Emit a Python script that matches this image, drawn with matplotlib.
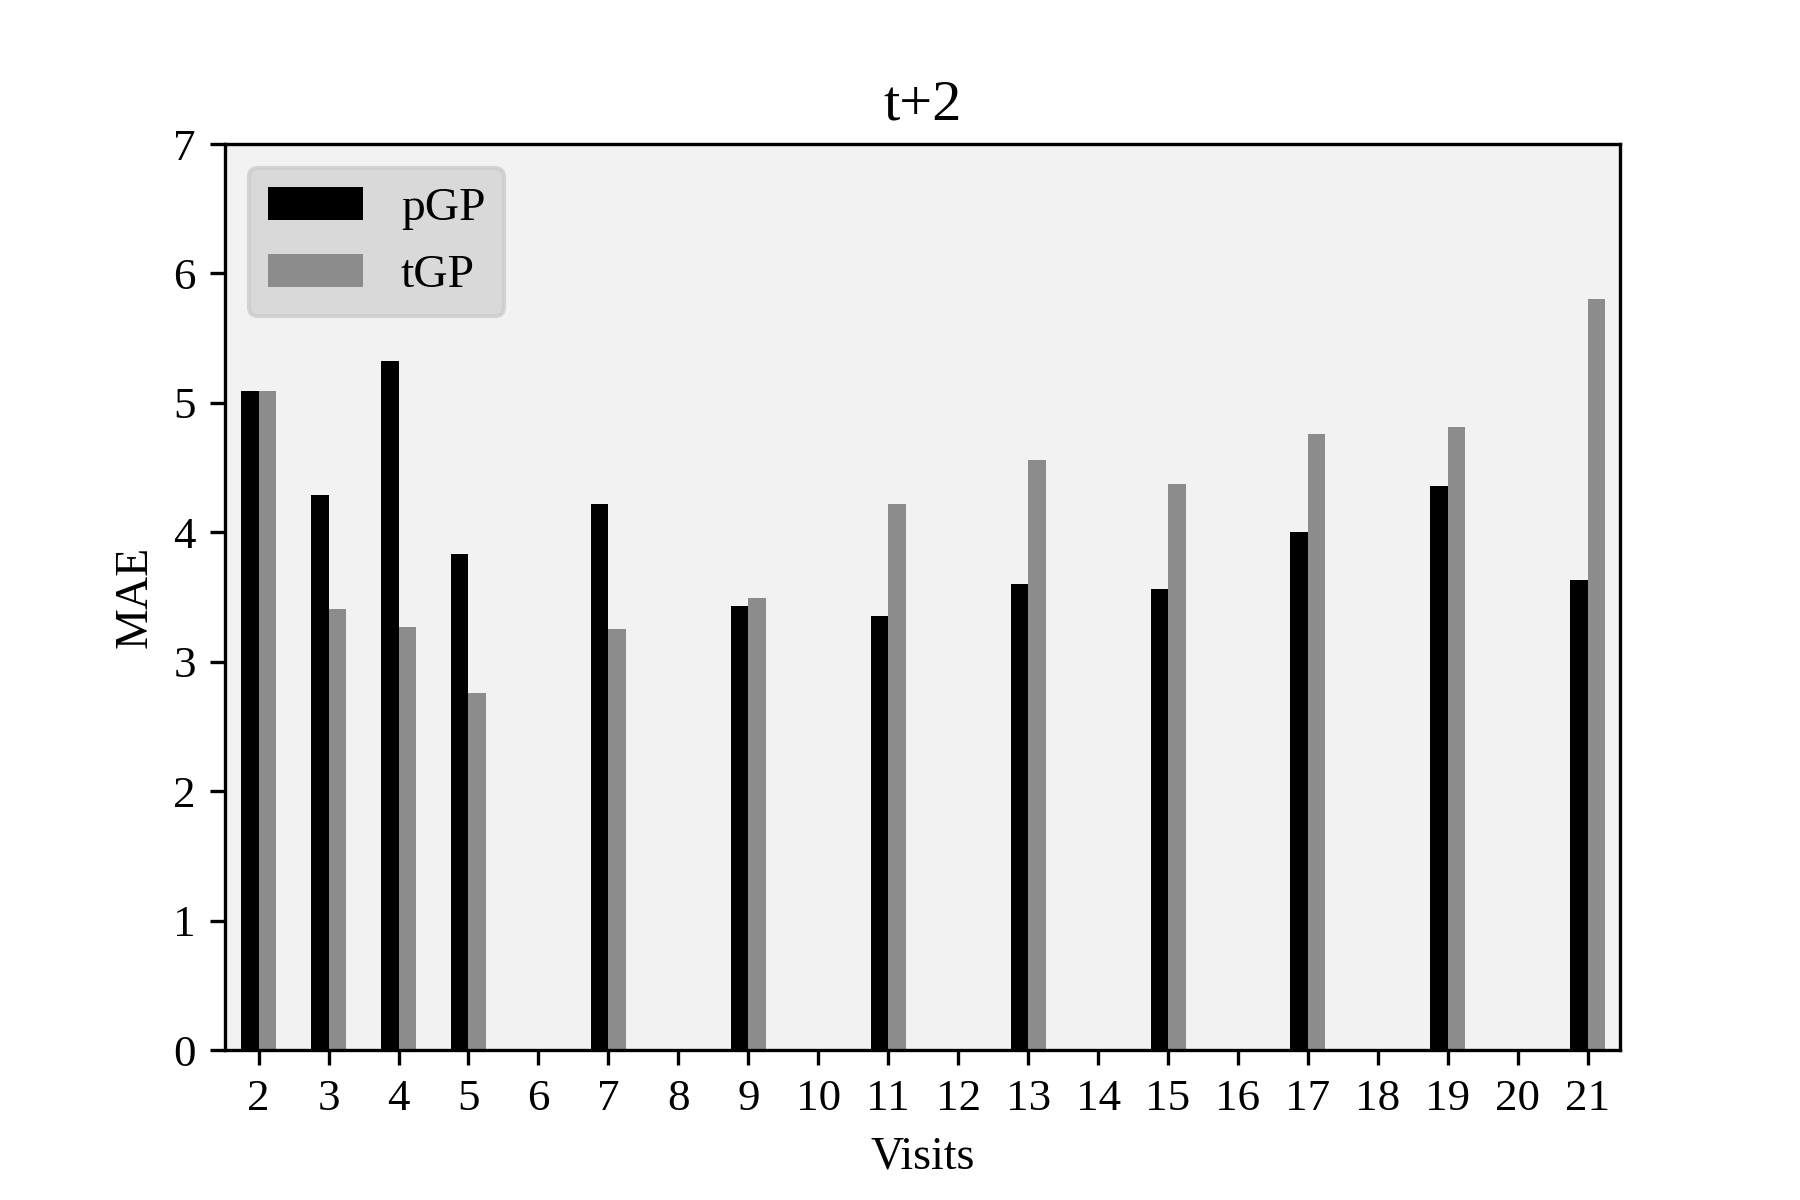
import matplotlib
matplotlib.use("Agg")
import matplotlib.pyplot as plt
import numpy as np

visits = list(range(2, 22))
nan = np.nan
pgp = [5.09, 4.29, 5.32, 3.83, nan, 4.22, nan, 3.43, nan, 3.35,
       nan, 3.60, nan, 3.56, nan, 4.00, nan, 4.36, nan, 3.63]
tgp = [5.09, 3.41, 3.27, 2.76, nan, 3.25, nan, 3.49, nan, 4.22,
       nan, 4.56, nan, 4.37, nan, 4.76, nan, 4.81, nan, 5.80]

plt.rcParams['font.family'] = ['Liberation Serif', 'DejaVu Serif']

fig = plt.figure(figsize=(6, 4), dpi=300)
ax = fig.add_axes([0.125, 0.125, 0.775, 0.755])
ax.set_facecolor('#f2f2f2')

x = np.arange(len(visits))
pgp = np.array(pgp)
tgp = np.array(tgp)
m1 = ~np.isnan(pgp)
m2 = ~np.isnan(tgp)
w = 0.25
ax.bar(x[m1] - w / 2, pgp[m1], width=w, color='black', label='pGP')
ax.bar(x[m2] + w / 2, tgp[m2], width=w, color='#8c8c8c', label='tGP')

ax.set_xticks(x)
ax.set_xticklabels([str(v) for v in visits], fontsize=10.8)
ax.tick_params(axis='y', labelsize=10.8)
ax.set_xlim(-0.48, 19.46)
ax.set_ylim(0, 7)
ax.set_xlabel('Visits', fontsize=11)
ax.set_ylabel('MAE', fontsize=11)
ax.set_title('t+2', fontsize=14)

leg = ax.legend(loc='upper left', fontsize=11.4, facecolor='lightgray',
                edgecolor='#cccccc', framealpha=0.8)

fig.savefig('out.png', dpi=300)
